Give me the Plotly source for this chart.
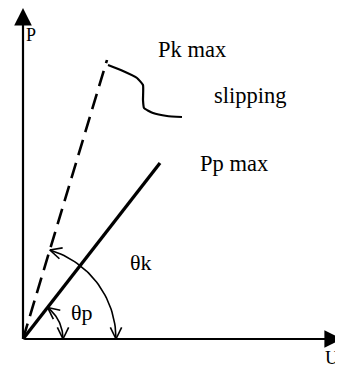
import numpy as np
import plotly.graph_objects as go

# diagram values (origin of the P-U axes at 0,0)
axis_len_u = 319
axis_len_p = 331
pk_line_u = [0, 84]
pk_line_p = [0, 279]
pp_line_u = [0, 137]
pp_line_p = [0, 176]
slip_u = [85, 100, 114, 120, 120, 121, 130, 144, 159]
slip_p = [274, 268, 261, 254, 239, 231, 226, 223, 222]
theta_k_radius = 93
theta_p_radius = 40

labels = [
    ("Pk max", 169, 290, 22.5),
    ("slipping", 227, 244, 22.5),
    ("Pp max", 211, 176, 22.5),
    ("θk", 118, 77, 22),
    ("θp", 59, 27, 22),
    ("P", 8, 304, 18),
    ("U", 309, -18, 19),
]

FONT = "Liberation Serif, Times New Roman, serif"
fig = go.Figure()

# dashed Pk line
fig.add_trace(go.Scatter(x=pk_line_u, y=pk_line_p, mode="lines",
                         line=dict(color="black", width=2.6, dash="16px,8px")))
# solid Pp line
fig.add_trace(go.Scatter(x=pp_line_u, y=pp_line_p, mode="lines",
                         line=dict(color="black", width=3.3)))
# slipping curve
fig.add_trace(go.Scatter(x=slip_u, y=slip_p, mode="lines",
                         line=dict(color="black", width=2.2, shape="spline", smoothing=0.4)))


def arc_with_heads(r, end_u, end_p):
    a1 = np.arctan2(end_p, end_u)
    t = np.linspace(0, a1, 40)
    fig.add_trace(go.Scatter(x=r * np.cos(t), y=r * np.sin(t), mode="lines",
                             line=dict(color="black", width=1.6)))
    # open V heads at both ends
    for ang, sign in ((0.0, -1), (a1, 1)):
        ex, ey = r * np.cos(ang), r * np.sin(ang)
        tx, ty = -np.sin(ang) * sign, np.cos(ang) * sign
        for w in (0.45, -0.45):
            c, s = np.cos(w), np.sin(w)
            dx, dy = tx * c - ty * s, tx * s + ty * c
            fig.add_trace(go.Scatter(x=[ex - 13 * dx, ex], y=[ey - 13 * dy, ey], mode="lines",
                                     line=dict(color="black", width=1.6)))


arc_with_heads(theta_k_radius, pk_line_u[1], pk_line_p[1])
arc_with_heads(theta_p_radius, pp_line_u[1], pp_line_p[1])

# axes with arrows
for tx, ty in ((axis_len_u, 0), (0, axis_len_p)):
    fig.add_annotation(x=tx, y=ty, ax=0, ay=0, xref="x", yref="y", axref="x", ayref="y",
                       showarrow=True, arrowhead=2, arrowsize=1.6, arrowwidth=2.2,
                       arrowcolor="black", text="")

for txt, x, y, size in labels:
    fig.add_annotation(x=x, y=y, text=txt, showarrow=False,
                       font=dict(family=FONT, size=size, color="black"))

# page body has an 8px margin, so the ranges are shifted to compensate
fig.update_layout(
    width=343, height=369, margin=dict(l=0, r=0, t=0, b=0),
    plot_bgcolor="white", paper_bgcolor="white", showlegend=False,
    xaxis=dict(range=[-15, 328], visible=False, fixedrange=True),
    yaxis=dict(range=[-38, 331], visible=False, fixedrange=True),
)
fig.write_html("out.html")
